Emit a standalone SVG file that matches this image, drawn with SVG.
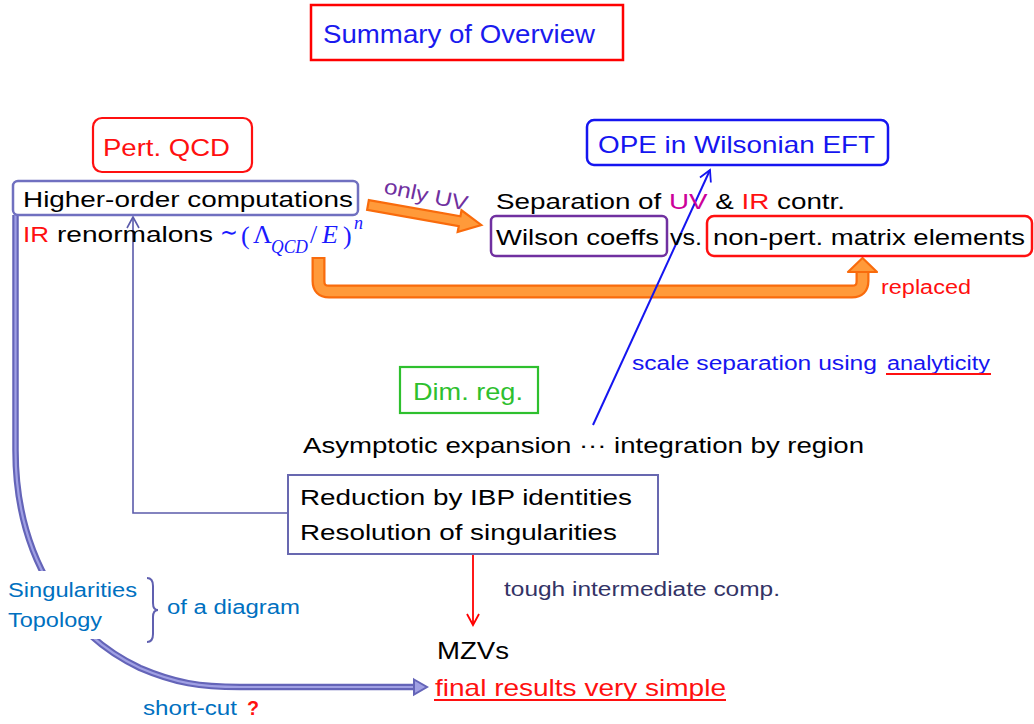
<svg xmlns="http://www.w3.org/2000/svg" width="1034" height="724" viewBox="0 0 1034 724">
<defs>
<style>
text{font-family:"Liberation Sans",Arial,sans-serif;}
.t22{font-size:22px;fill:#000;}
.t24{font-size:24px;}
.t20{font-size:20px;}
.m{font-family:"Liberation Serif","Times New Roman",serif;fill:#1a1aff;font-size:26px;}
.mi{font-style:italic;}
.thin{fill:none;stroke-width:1.6;}
</style>
<marker id="vBlue" markerUnits="userSpaceOnUse" markerWidth="16" markerHeight="16" refX="13" refY="8" orient="auto"><path d="M2,2 L13,8 L2,14" fill="none" stroke="#1515f0" stroke-width="1.8"/></marker>
<marker id="vRed" markerUnits="userSpaceOnUse" markerWidth="16" markerHeight="16" refX="13" refY="8" orient="auto"><path d="M2,2 L13,8 L2,14" fill="none" stroke="#ff0000" stroke-width="1.8"/></marker>
<marker id="vPur" markerUnits="userSpaceOnUse" markerWidth="16" markerHeight="16" refX="13" refY="8" orient="auto"><path d="M2,2 L13,8 L2,14" fill="none" stroke="#5b5bab" stroke-width="1.6"/></marker>
</defs>
<rect width="1034" height="724" fill="#fff"/>

<g id="connectors">
  <path d="M15.5,215 L15.5,450 C15.5,560 70,635 140,668 C175,683 200,687 240,687 L414,687" fill="none" stroke="#6464b8" stroke-width="6.5"/>
  <path d="M15.5,215 L15.5,450 C15.5,560 70,635 140,668 C175,683 200,687 240,687 L414,687" fill="none" stroke="#a0a0e4" stroke-width="2.2"/>
  <polygon points="414,679.5 427,687 414,694.5" fill="#a0a0e4" stroke="#6464b8" stroke-width="2"/>
  <rect x="0" y="571" width="146" height="68" fill="#fff"/>
  <g transform="translate(368,205) rotate(10)">
    <polygon points="0,-5 93,-5 93,-11 115,0 93,11 93,5 0,5" fill="#ff9a3a" stroke="#f96b0c" stroke-width="2.2" stroke-linejoin="miter"/>
  </g>
  <path d="M318.5,257 L318.5,281 Q318.5,291.5 329,291.5 L852,291.5 Q862.5,291.5 862.5,281 L862.5,271" fill="none" stroke="#f96b0c" stroke-width="14"/>
  <path d="M318.5,259 L318.5,281 Q318.5,291.5 329,291.5 L852,291.5 Q862.5,291.5 862.5,281 L862.5,270" fill="none" stroke="#ff9a3a" stroke-width="9.5"/>
  <polygon points="862.5,258 877,272 848,272" fill="#ff9a3a" stroke="#f96b0c" stroke-width="2.2" stroke-linejoin="round"/>
  <path d="M288,513 L133,513 L133,217" class="thin" stroke="#5b5bab" marker-end="url(#vPur)"/>
  <path d="M593,425 L710,170" fill="none" stroke="#1515f0" stroke-width="2" marker-end="url(#vBlue)"/>
  <path d="M473,554 L473,625" fill="none" stroke="#ff0000" stroke-width="1.8" marker-end="url(#vRed)"/>
  <path d="M147,578 Q153,578 153,586 L153,603 Q153,610 158,610 Q153,610 153,617 L153,634 Q153,642 147,642" fill="none" stroke="#6060b0" stroke-width="2"/>
</g>

<g id="title">
  <rect x="311" y="5" width="312" height="55" fill="none" stroke="#ff0000" stroke-width="2.5"/>
  <text x="323" y="43" style="font-size:26px;fill:#1a1aee" textLength="272" lengthAdjust="spacingAndGlyphs">Summary of Overview</text>
</g>

<g id="pert-qcd">
  <rect x="93" y="118" width="159" height="54" rx="9" fill="none" stroke="#ff1010" stroke-width="2.2"/>
  <text x="103" y="156" class="t24" style="fill:#ff1010" textLength="127" lengthAdjust="spacingAndGlyphs">Pert. QCD</text>
</g>

<g id="higher-order">
  <rect x="13" y="181" width="345" height="34" rx="5" fill="#fff" stroke="#7070c0" stroke-width="2.5"/>
  <text x="23" y="207" class="t22" textLength="330" lengthAdjust="spacingAndGlyphs">Higher-order computations</text>
</g>

<g id="renormalons">
  <text x="23" y="242" class="t22" style="fill:#ff1010" textLength="26" lengthAdjust="spacingAndGlyphs">IR</text>
  <text x="57" y="242" class="t22" textLength="156" lengthAdjust="spacingAndGlyphs">renormalons</text>
  <text class="m"><tspan x="220" y="241" textLength="18" lengthAdjust="spacingAndGlyphs">∼</tspan><tspan x="241" y="244">(</tspan><tspan x="253" y="243">Λ</tspan><tspan x="271" y="253" class="mi" style="font-size:18px" textLength="37" lengthAdjust="spacingAndGlyphs">QCD</tspan><tspan x="310" y="243">/</tspan><tspan x="322" y="243" class="mi">E</tspan><tspan x="343" y="244">)</tspan><tspan x="354" y="229" class="mi" style="font-size:18px">n</tspan></text>
</g>

<g id="only-uv-label">
  <text x="383" y="193" transform="rotate(12 383 193)" style="font-size:21px;fill:#7030a0" textLength="85" lengthAdjust="spacingAndGlyphs">only UV</text>
</g>

<g id="separation">
  <text x="496" y="209" class="t22" textLength="349" lengthAdjust="spacingAndGlyphs">Separation of <tspan style="fill:#cc0099">UV</tspan> &amp; <tspan style="fill:#ff1010">IR</tspan> contr.</text>
</g>

<g id="wilson">
  <rect x="491" y="216" width="176" height="40" rx="5" fill="none" stroke="#7030a0" stroke-width="2.5"/>
  <text x="496" y="245" class="t22" textLength="163" lengthAdjust="spacingAndGlyphs">Wilson coeffs</text>
</g>
<g id="vs">
  <text x="670" y="245" class="t22" textLength="32" lengthAdjust="spacingAndGlyphs">vs.</text>
</g>
<g id="nonpert">
  <rect x="707" y="216" width="325" height="40" rx="7" fill="none" stroke="#ff1010" stroke-width="2.5"/>
  <text x="713" y="245" class="t22" textLength="312" lengthAdjust="spacingAndGlyphs">non-pert. matrix elements</text>
</g>

<g id="ope">
  <rect x="587" y="120" width="301" height="45" rx="7" fill="none" stroke="#1515f0" stroke-width="2.5"/>
  <text x="598" y="153" class="t24" style="fill:#1515f0" textLength="277" lengthAdjust="spacingAndGlyphs">OPE in Wilsonian EFT</text>
</g>

<g id="replaced">
  <text x="881" y="294" class="t20" style="fill:#ff1010" textLength="90" lengthAdjust="spacingAndGlyphs">replaced</text>
</g>

<g id="scale-sep">
  <text x="632" y="370" class="t20" style="fill:#1515f0" textLength="245" lengthAdjust="spacingAndGlyphs">scale separation  using</text>
  <text x="887" y="370" class="t20" style="fill:#1515f0" textLength="103" lengthAdjust="spacingAndGlyphs">analyticity</text>
  <line x1="886" y1="374" x2="991" y2="374" stroke="#ff1010" stroke-width="1.8"/>
</g>

<g id="dimreg">
  <rect x="400" y="367" width="138" height="46" fill="none" stroke="#2ec02e" stroke-width="2.2"/>
  <text x="413" y="400" class="t24" style="fill:#2ec02e" textLength="110" lengthAdjust="spacingAndGlyphs">Dim. reg.</text>
</g>

<g id="asymptotic">
  <text x="303" y="453" class="t22" textLength="561" lengthAdjust="spacingAndGlyphs">Asymptotic expansion ··· integration by region</text>
</g>

<g id="reduction">
  <rect x="288" y="475" width="370" height="79" fill="#fff" stroke="#6868b0" stroke-width="2"/>
  <text x="300" y="505" class="t22" textLength="332" lengthAdjust="spacingAndGlyphs">Reduction by IBP identities</text>
  <text x="300" y="540" class="t22" textLength="317" lengthAdjust="spacingAndGlyphs">Resolution of singularities</text>
</g>

<g id="tough">
  <text x="504" y="596" class="t20" style="fill:#333366" textLength="276" lengthAdjust="spacingAndGlyphs">tough intermediate comp.</text>
</g>

<g id="mzvs">
  <text x="437" y="659" class="t24" style="fill:#000" textLength="72" lengthAdjust="spacingAndGlyphs">MZVs</text>
</g>

<g id="final">
  <text x="435" y="696" class="t24" style="fill:#ff1010" textLength="291" lengthAdjust="spacingAndGlyphs">final results very simple</text>
  <line x1="434" y1="700" x2="726" y2="700" stroke="#ff1010" stroke-width="1.8"/>
</g>

<g id="side-labels">
  <text x="8" y="597" class="t20" style="fill:#0070c0" textLength="129" lengthAdjust="spacingAndGlyphs">Singularities</text>
  <text x="8" y="627" class="t20" style="fill:#0070c0" textLength="94" lengthAdjust="spacingAndGlyphs">Topology</text>
  <text x="167" y="614" class="t20" style="fill:#0070c0" textLength="133" lengthAdjust="spacingAndGlyphs">of a diagram</text>
</g>

<g id="shortcut">
  <text x="143" y="715" class="t20" style="fill:#0070c0" textLength="94" lengthAdjust="spacingAndGlyphs">short-cut</text>
  <text x="247" y="715" class="t20" style="fill:#ff1010;font-weight:bold" textLength="12" lengthAdjust="spacingAndGlyphs">?</text>
</g>
</svg>
